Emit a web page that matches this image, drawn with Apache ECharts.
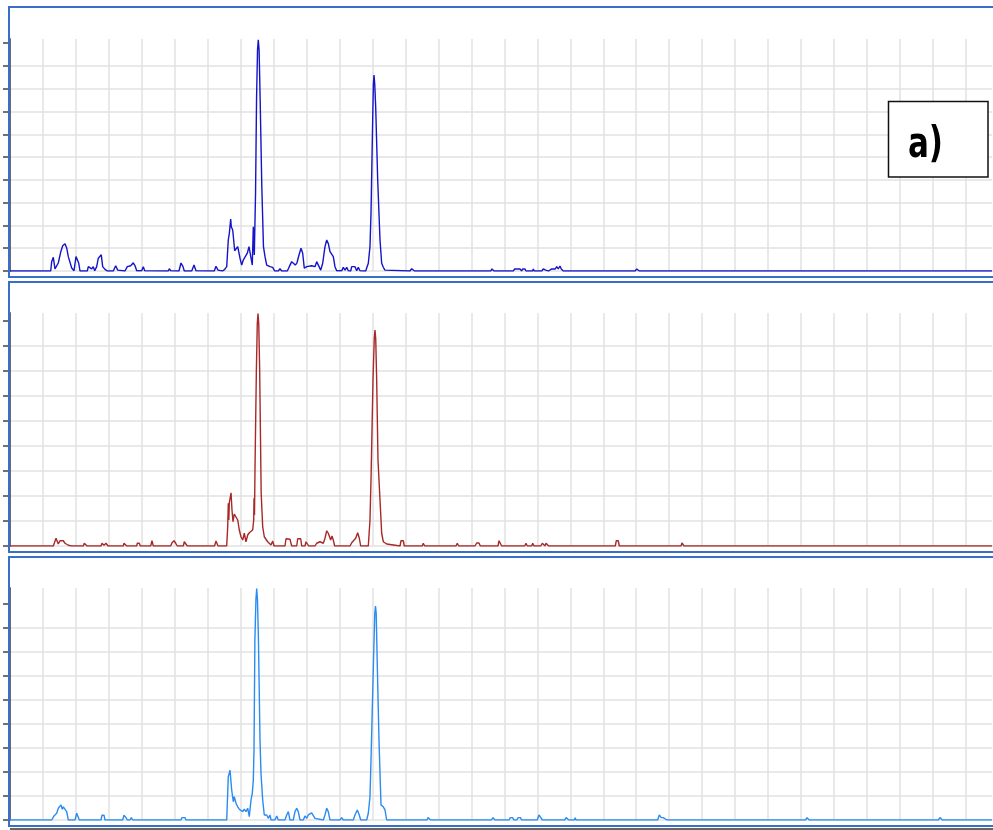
<!DOCTYPE html>
<html>
<head>
<meta charset="utf-8">
<script src="https://cdn.jsdelivr.net/npm/echarts@6/dist/echarts.min.js"></script>
<style>
html,body{margin:0;padding:0;background:#fff;}
#chart{width:993px;height:830px;}
</style>
</head>
<body>
<div id="chart"></div>
<script>
// x in grid units (one vertical gridline per unit), y in arbitrary intensity units
const trace1 = [
[0,0],[1.235,0],[1.265,4.1],[1.314,6.0],[1.365,0.9],[1.417,0.9],[1.465,3.5],[1.538,8.3],[1.599,11.1],[1.669,12.0],[1.720,10.1],[1.769,6.3],[1.820,5.7],[1.872,1.3],[1.942,0.1],[2.002,6.3],[2.042,6.9],[2.084,3.5],[2.124,0],
[2.345,0],[2.376,1.9],[2.427,1.9],[2.479,0.9],[2.527,1.9],[2.570,0.1],[2.630,1.9],[2.679,5.6],[2.731,6.3],[2.770,7.1],[2.812,1.9],[2.882,0.7],[2.952,0],
[3.134,0],[3.207,2.3],[3.268,0.4],[3.307,0],[3.489,0],[3.559,1.9],[3.662,2.3],[3.741,3.6],[3.793,2.3],[3.844,0.1],[3.996,0.1],[4.044,1.9],[4.087,0.1],[4.126,0],
[4.803,0],[4.833,1.0],[4.876,0.1],[4.915,0],[5.127,0],[5.188,3.5],[5.249,1.9],[5.288,0],[5.513,0],[5.583,2.6],[5.643,0.1],[5.674,0],
[6.198,0],[6.250,2.1],[6.311,0.4],[6.371,0],[6.453,0],[6.514,0.7],[6.575,1.9],[6.623,13.6],[6.654,16.5],[6.696,22.8],[6.714,19.4],[6.757,18.0],[6.817,8.9],[6.866,8.9],[6.909,10.7],[6.939,10.7],[6.978,5.6],[7.030,2.6],[7.078,4.8],[7.151,6.6],[7.200,7.8],[7.251,10.7],[7.303,10.0],[7.351,2.6],[7.382,19.4],[7.412,7.0],[7.450,34.1],[7.480,75.0],[7.510,97.0],[7.533,101.5],[7.558,97.0],[7.590,75.0],[7.640,37.0],[7.690,10.7],[7.737,6.3],[7.788,2.6],[7.888,1.9],[7.970,1.6],[8.031,0],
[8.140,0],[8.192,1.0],[8.243,0],[8.413,0],[8.474,1.9],[8.547,4.1],[8.595,4.8],[8.656,2.6],[8.707,3.6],[8.768,7.0],[8.829,10.0],[8.880,7.8],[8.929,1.2],[9.002,1.9],[9.153,2.3],[9.254,1.9],[9.305,4.1],[9.354,4.8],[9.427,0.4],[9.487,3.4],[9.557,10.7],[9.609,13.6],[9.657,12.1],[9.709,8.5],[9.760,8.5],[9.809,6.3],[9.860,1.9],[9.912,0.1],
[10.064,0.1],[10.112,1.6],[10.164,0.4],[10.215,1.6],[10.264,0.1],[10.337,0],[10.367,1.9],[10.467,1.9],[10.519,0.1],[10.567,1.6],[10.619,0.1],[10.792,0],[10.871,3.4],[10.922,10.7],[10.953,25.4],[10.998,61.8],[11.025,82.0],[11.044,86.0],[11.066,82.0],[11.095,72.0],[11.156,39.9],[11.226,13.6],[11.277,3.4],[11.326,1.6],[11.377,0.4],[11.429,0],
[12.136,0],[12.187,1.0],[12.236,0.4],[12.272,0],[13.419,0],[13.450,0.7],[13.480,0],[14.584,0],[14.624,0.9],[14.684,0],[15.270,0],[15.312,0.9],[15.473,0.9],[15.525,0],[15.555,0.9],[15.625,0.9],[15.655,0],[15.859,0],[15.877,0.9],[15.907,0],
[16.132,0],[16.180,0.9],[16.253,0.4],[16.293,0.9],[16.344,0],[16.383,0],[16.435,0.9],[16.544,0.9],[16.587,1.9],[16.635,0.9],[16.687,2.2],[16.726,0.9],[16.787,0],[18.971,0],[19.014,0.9],[19.092,0],[29.8,0]
];
const trace2 = [
[0,0],[1.314,0],[1.396,3.1],[1.465,0.8],[1.517,2.1],[1.617,2.1],[1.669,1.1],[1.720,1.7],[1.769,0.3],[1.820,1.1],[1.872,0],[2.224,0],[2.254,1.1],[2.306,1.1],[2.336,0],[2.761,0],[2.791,1.1],[2.852,0.3],[2.913,1.1],[2.973,0],
[3.438,0],[3.459,1.1],[3.519,1.1],[3.541,0],[3.844,0],[3.862,1.1],[3.923,1.1],[3.953,0],[4.269,0],[4.308,2.1],[4.348,0],[4.876,0],[4.915,1.3],[4.976,2.1],[5.027,1.1],[5.076,0],[5.258,0],[5.288,1.7],[5.340,2.1],[5.379,0],
[6.205,0],[6.250,2.0],[6.311,0],[6.575,0],[6.605,7.7],[6.623,17.1],[6.639,10.4],[6.654,17.3],[6.706,21.3],[6.735,14.4],[6.766,9.7],[6.805,12.8],[6.857,13.1],[6.909,10.4],[6.957,6.4],[7.008,3.7],[7.060,2.4],[7.109,5.1],[7.160,1.7],[7.212,4.4],[7.260,5.3],[7.312,5.1],[7.363,6.4],[7.394,10.4],[7.403,19.1],[7.418,12.4],[7.433,30.4],[7.475,70.4],[7.503,89.0],[7.524,93.0],[7.547,89.0],[7.575,70.4],[7.620,21.2],[7.667,7.7],[7.715,3.7],[7.767,3.1],[7.818,1.7],[7.867,2.4],[7.919,0.4],[7.970,2.0],[8.010,0],
[8.343,0],[8.374,2.9],[8.425,2.7],[8.495,2.7],[8.547,0],[8.698,0],[8.729,2.9],[8.820,2.9],[8.850,0],[8.950,0],[8.981,1.7],[9.020,2.1],[9.062,0],[9.254,0],[9.305,1.1],[9.405,1.7],[9.457,1.7],[9.506,1.1],[9.557,3.1],[9.609,6.1],[9.657,5.1],[9.688,5.7],[9.730,2.4],[9.769,4.0],[9.809,2.4],[9.851,0],
[10.316,0],[10.367,1.3],[10.416,1.1],[10.488,3.1],[10.549,5.3],[10.598,3.1],[10.640,0],[10.871,0],[10.922,10.4],[10.953,26.4],[11.013,66.4],[11.052,83.0],[11.074,86.4],[11.096,83.0],[11.125,66.4],[11.165,34.4],[11.226,18.4],[11.277,5.1],[11.326,1.7],[11.377,2.1],[11.429,0.8],[11.477,0],
[11.833,0],[11.863,2.1],[11.933,2.1],[11.963,0],[12.509,0],[12.540,1.1],[12.582,0],[13.532,0],[13.571,1.1],[13.614,0],[14.108,0],[14.160,1.2],[14.229,1.2],[14.269,0],[14.806,0],[14.836,2.1],[14.876,1.1],[14.918,0],
[15.616,0],[15.655,1.1],[15.695,0],[15.828,0],[15.859,1.1],[15.898,0],[16.101,0],[16.150,1.1],[16.201,1.1],[16.232,0],[16.262,1.1],[16.314,1.1],[16.344,0],[18.365,0],[18.395,2.1],[18.456,2.1],[18.486,0],[20.358,0],[20.388,1.2],[20.449,0],[29.8,0]
];
const trace3 = [
[0,0],[1.265,0],[1.335,1.7],[1.417,2.8],[1.465,4.9],[1.517,4.9],[1.547,6.3],[1.587,4.5],[1.617,5.5],[1.669,5.5],[1.720,3.5],[1.769,0],[1.972,0],[2.024,2.8],[2.072,3.0],[2.103,0],
[2.761,0],[2.791,2.0],[2.852,2.0],[2.882,0],[3.419,0],[3.459,2.0],[3.519,1.0],[3.559,0],[3.641,0],[3.680,1.0],[3.723,0],[5.188,0],[5.218,1.0],[5.309,1.0],[5.340,0],
[6.575,0],[6.623,18.0],[6.675,20.8],[6.726,12.5],[6.775,7.6],[6.805,9.7],[6.857,7.0],[6.909,5.5],[6.957,4.5],[7.008,4.9],[7.060,3.5],[7.109,4.5],[7.160,3.5],[7.212,4.9],[7.260,1.4],[7.312,8.3],[7.351,11.1],[7.382,16.7],[7.403,29.2],[7.430,75.0],[7.462,92.0],[7.485,96.5],[7.508,92.0],[7.538,75.0],[7.585,33.3],[7.615,19.5],[7.667,8.3],[7.715,2.1],[7.788,2.1],[7.837,0.7],[7.888,2.1],[7.919,0],
[8.040,0],[8.092,1.7],[8.140,0],[8.343,0],[8.395,2.1],[8.444,3.5],[8.495,0],[8.595,0],[8.647,3.5],[8.698,4.9],[8.747,3.5],[8.799,0],[8.899,0],[8.950,1.7],[9.002,0.7],[9.050,2.1],[9.102,2.8],[9.153,3.0],[9.202,2.8],[9.254,0.7],[9.305,0],
[9.505,0],[9.557,2.1],[9.609,4.9],[9.657,3.5],[9.709,0],[10.012,0],[10.064,1.0],[10.112,0],[10.416,0],[10.467,2.1],[10.537,4.2],[10.598,2.1],[10.640,0],
[10.822,0],[10.871,2.8],[10.922,9.7],[10.953,25.0],[11.029,66.7],[11.067,86.0],[11.089,89.2],[11.111,86.0],[11.140,66.7],[11.195,33.3],[11.256,6.3],[11.326,5.5],[11.377,4.2],[11.429,0],
[12.652,0],[12.682,1.0],[12.728,1.0],[12.758,0],[14.609,0],[14.654,1.0],[14.715,0],[15.143,0],[15.179,1.0],[15.249,1.0],[15.285,0],[15.379,0],[15.416,1.0],[15.485,1.0],[15.522,0],
[15.998,0],[16.047,2.1],[16.104,2.1],[16.153,0],[16.827,0],[16.875,1.0],[16.948,0],[17.124,0],[17.148,1.0],[17.172,0],
[19.651,0],[19.700,2.1],[19.757,1.0],[19.818,1.0],[19.866,1.0],[19.936,0],[24.135,0],[24.184,1.0],[24.244,0],[28.167,0],[28.216,1.0],[28.286,0],[29.8,0]
];
const yTicks1 = [0,10,20,30,40,50,60,70,80,90,100];
const yTicks2 = [0,10,20,30,40,50,60,70,80,90];
const yTicks3 = [0,10,20,30,40,50,60,70,80,90];
const yMax = [101.8, 93.2, 96.7];
const panelLabel = 'a)';

const chart = echarts.init(document.getElementById('chart'), null, {renderer:'canvas'});
const grids = [
  {left:10, top:39, width:982.2, height:232},
  {left:10, top:313, width:982.2, height:233},
  {left:10, top:588, width:982.2, height:232}
];
const ticksList = [yTicks1, yTicks2, yTicks3];
const colors = ['#1414c8', '#a82828', '#2a8cf2'];
const xAxes = grids.map((g,i)=>({
  type:'value', gridIndex:i, min:0, max:29.8, interval:1,
  axisLine:{show:false}, axisTick:{show:false}, axisLabel:{show:false},
  splitLine:{show:true, showMaxLine:false, lineStyle:{color:'#e2e2e2', width:1.5}}
}));
const yAxes = grids.map((g,i)=>({
  type:'value', gridIndex:i, min:0, max:yMax[i], interval:10,
  axisLine:{show:true, lineStyle:{color:'#6a6a6a', width:2}},
  axisTick:{show:true, length:7, customValues:ticksList[i], lineStyle:{color:'#444', width:1.5}},
  axisLabel:{show:false},
  splitLine:{show:true, showMaxLine:false, lineStyle:{color:'#e2e2e2', width:1.5}}
}));
const series = [trace1, trace2, trace3].map((d,i)=>({
  type:'line', xAxisIndex:i, yAxisIndex:i, data:d, showSymbol:false, symbol:'none',
  lineStyle:{color:colors[i], width:1.4}, animation:false, z:3
}));
const frameColor = '#3a6fc8';
chart.setOption({
  animation:false,
  grid:grids,
  xAxis:xAxes,
  yAxis:yAxes,
  series:series,
  graphic:[
    {type:'rect', z:1, shape:{x:9, y:7, width:1000, height:270}, style:{fill:'none', stroke:frameColor, lineWidth:2}},
    {type:'rect', z:1, shape:{x:9, y:282, width:1000, height:270}, style:{fill:'none', stroke:frameColor, lineWidth:2}},
    {type:'rect', z:1, shape:{x:9, y:557, width:1000, height:269}, style:{fill:'none', stroke:frameColor, lineWidth:2}},
    {type:'line', z:1, shape:{x1:10, y1:829, x2:993, y2:829}, style:{stroke:'#333', lineWidth:1.5}},
    {type:'rect', z:10, shape:{x:888.5, y:101.5, width:99.5, height:75.5}, style:{fill:'#fff', stroke:'#111', lineWidth:1.5}},
    {type:'text', z:11, x:925.5, y:146, scaleX:0.82, style:{text:panelLabel, fill:'#000', font:'bold 42px "DejaVu Sans Condensed", "DejaVu Sans"', align:'center', verticalAlign:'middle'}}
  ]
});
</script>
</body>
</html>
